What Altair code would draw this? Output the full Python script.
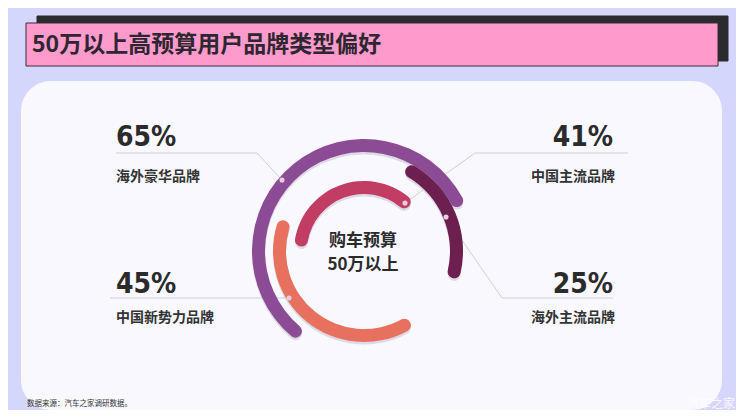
import math
import altair as alt
import pandas as pd

# ---------------- data ----------------
categories = ["海外豪华品牌", "中国新势力品牌", "中国主流品牌", "海外主流品牌"]
shares = [65, 45, 41, 25]
share_labels = ["65%", "45%", "41%", "25%"]

TITLE = "50万以上高预算用户品牌类型偏好"
CENTER_LINES = ["购车预算", "50万以上"]
SOURCE = "数据来源：汽车之家调研数据。"
WATERMARK = "汽车之家"

# ---------------- style / layout ----------------
arc_colors = ["#8c4b95", "#e8705e", "#c23d63", "#6d2050"]
arc_start_deg = [217, 147, 274, 27]
arc_inner = [99, 78, 57, 86]
arc_outer = [112, 91, 70, 99]
DEG_PER_PCT = 3.2
CX, CY = 364, 251
OFF = 8
W, H = 744 - 2 * OFF, 418 - 2 * OFF
FONT = "Noto Sans CJK SC"
NUMFONT = "DejaVu Sans Condensed, Roboto, sans-serif"

# percentage label anchor (x, baseline y, align), category label (x, middle y)
pct_pos = [(116, 146, "left"), (116, 293, "left"), (613, 146, "right"), (613, 293, "right")]
cat_pos = [(116, 177, "left"), (116, 318, "left"), (615, 177, "right"), (615, 318, "right")]
dot_pos = [(282, 180), (289, 298), (405, 203), (446, 217)]
leader_segments = [
    (116, 153, 257, 153), (257, 153, 282, 180),
    (110, 298, 289, 298),
    (475, 153, 628, 153), (475, 153, 405, 203),
    (502, 298, 613, 298), (502, 298, 446, 217),
]

X = lambda f: alt.X(f, scale=alt.Scale(domain=[OFF, OFF + W], range=[0, W]), axis=None)
Y = lambda f: alt.Y(f, scale=alt.Scale(domain=[OFF, OFF + H], range=[0, H]), axis=None)

# ---------------- background shapes ----------------
rects = pd.DataFrame([
    dict(x=37, x2=728, y=16, y2=61, fill="#2b2b2e", stroke="#2b2b2e"),
    dict(x=26, x2=718, y=23, y2=66, fill="#ff9bcc", stroke="#3b2a3a"),
])
bars = alt.Chart(rects).mark_rect(strokeWidth=1).encode(
    x=X("x:Q"), x2="x2:Q", y=Y("y:Q"), y2="y2:Q",
    fill=alt.Fill("fill:N", scale=None), stroke=alt.Stroke("stroke:N", scale=None),
)
panel_df = pd.DataFrame([dict(x=21, x2=722, y=81, y2=410)])
panel = alt.Chart(panel_df).mark_rect(cornerRadius=30, color="#f8f8fe").encode(
    x=X("x:Q"), x2="x2:Q", y=Y("y:Q"), y2="y2:Q"
)

title = alt.Chart(pd.DataFrame([dict(t=TITLE, x=32, y=45)])).mark_text(
    align="left", baseline="middle", font=FONT, fontWeight="bold", fontSize=23, color="#2e2631"
).encode(x=X("x:Q"), y=Y("y:Q"), text="t:N")

# ---------------- arcs ----------------
arc_df = pd.DataFrame({
    "cat": categories,
    "share": shares,
    "start": [d / DEG_PER_PCT for d in arc_start_deg],
    "r0": arc_inner,
    "r1": arc_outer,
})
arc_df["end"] = arc_df["start"] + arc_df["share"]
theta_scale = alt.Scale(domain=[0, 100], range=[0, DEG_PER_PCT * 100 * math.pi / 180])

def arcs(dy, color_enc, opacity=1.0):
    return alt.Chart(arc_df).mark_arc(cornerRadius=6.5, opacity=opacity).encode(
        theta=alt.Theta("start:Q", scale=theta_scale, stack=None),
        theta2="end:Q",
        radius=alt.Radius("r1:Q", scale=None),
        radius2="r0:Q",
        color=color_enc,
        x=alt.value(CX - OFF),
        y=alt.value(CY - OFF + dy),
    )

shadow = arcs(2.5, alt.value("#d6d2df"), 0.8)
main_arcs = arcs(0, alt.Color("cat:N", scale=alt.Scale(domain=categories, range=arc_colors), legend=None))

# ---------------- leaders & dots ----------------
seg_df = pd.DataFrame(leader_segments, columns=["x", "y", "x2", "y2"])
leaders = alt.Chart(seg_df).mark_rule(color="#cfcfd8", strokeWidth=1).encode(
    x=X("x:Q"), y=Y("y:Q"), x2="x2:Q", y2="y2:Q"
)
dot_df = pd.DataFrame(dot_pos, columns=["x", "y"])
dots = alt.Chart(dot_df).mark_circle(size=26, color="#e6cfdc", opacity=1).encode(
    x=X("x:Q"), y=Y("y:Q")
)

# ---------------- labels ----------------
lab_df = pd.DataFrame({
    "pct": share_labels,
    "cat": categories,
    "px": [p[0] for p in pct_pos], "py": [p[1] for p in pct_pos], "pa": [p[2] for p in pct_pos],
    "cx": [p[0] for p in cat_pos], "cy": [p[1] for p in cat_pos],
})
pct_layers = []
cat_layers = []
for al in ["left", "right"]:
    sub = lab_df[lab_df["pa"] == al]
    pct_layers.append(alt.Chart(sub).mark_text(
        align=al, baseline="alphabetic", font=NUMFONT, fontWeight="bold", fontSize=28, color="#2b2b2b"
    ).encode(x=X("px:Q"), y=Y("py:Q"), text="pct:N"))
    cat_layers.append(alt.Chart(sub).mark_text(
        align=al, baseline="middle", font=FONT, fontWeight="bold", fontSize=14, color="#333333"
    ).encode(x=X("cx:Q"), y=Y("cy:Q"), text="cat:N"))

center_df = pd.DataFrame({"t": CENTER_LINES, "x": [363, 363], "y": [241, 265]})
center = alt.Chart(center_df).mark_text(
    align="center", baseline="middle", font=FONT, fontWeight="bold", fontSize=17, color="#2b2b2b"
).encode(x=X("x:Q"), y=Y("y:Q"), text="t:N")

src = alt.Chart(pd.DataFrame([dict(t=SOURCE, x=27, y=404)])).mark_text(
    align="left", baseline="middle", font=FONT, fontSize=7.5, color="#333333"
).encode(x=X("x:Q"), y=Y("y:Q"), text="t:N")
wm = alt.Chart(pd.DataFrame([dict(t=WATERMARK, x=735, y=404)])).mark_text(
    align="right", baseline="middle", font=FONT, fontSize=12, color="#ffffff", opacity=0.85
).encode(x=X("x:Q"), y=Y("y:Q"), text="t:N")

chart = alt.layer(
    bars, title, panel, leaders, shadow, main_arcs, dots,
    *pct_layers, *cat_layers, center, src, wm
).properties(
    width=W, height=H, autosize=alt.AutoSizeParams(type="none"), padding=0,
    background="#d5d6fc",
).configure_view(stroke=None)

chart.save("out.html", embed_options={"renderer": "svg", "actions": False})
